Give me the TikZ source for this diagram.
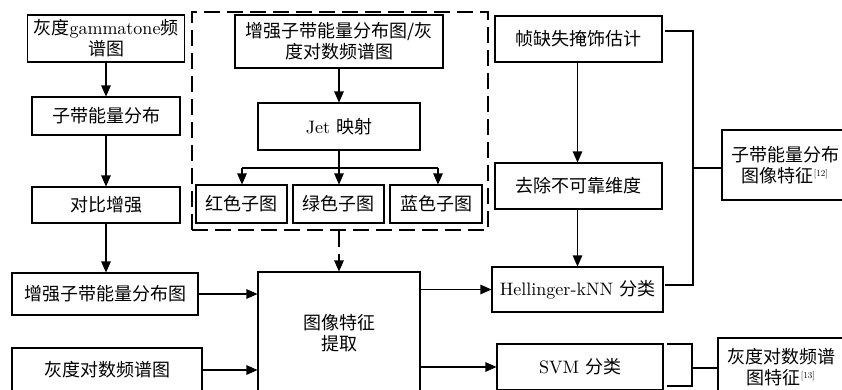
\documentclass[tikz,border=0pt]{standalone}
\usepackage{fontspec}
\setmainfont{lmroman10-regular}[Extension=.otf]
\newfontfamily\cjk{Noto Sans CJK SC}
\usetikzlibrary{arrows.meta,calc}
\newcommand\zh[1]{{\cjk #1}}
\newcommand\refmark[1]{\textsuperscript{\fontsize{9}{9}\selectfont[#1]}}
\begin{document}
\begin{tikzpicture}[x=1pt,y=-1pt,
  box/.style={draw,line width=1.05pt,inner sep=0pt,align=center,font=\fontsize{18}{21}\selectfont},
  arr/.style={line width=1.05pt,-{Triangle[length=11pt,width=9.5pt]}},
  ln/.style={line width=1.05pt},
  grpbox/.style={draw,line width=1.05pt,dash pattern=on 16pt off 7pt,inner sep=0pt}]
\useasboundingbox (0,0) rectangle (842,389);
% left column
\node[box,minimum width=157pt,minimum height=47pt] (n1) at (106,38.5) {\zh{灰度}gammatone\zh{频}\\\zh{谱图}};
\node[box,minimum width=148pt,minimum height=38pt] (n2) at (106,116) {\zh{子带能量分布}};
\node[box,minimum width=148pt,minimum height=36pt] (n3) at (106,205) {\zh{对比增强}};
\node[box,minimum width=186pt,minimum height=42pt] (n4) at (105,294) {\zh{增强子带能量分布图}};
\node[box,minimum width=190pt,minimum height=44pt] (n5) at (107,370) {\zh{灰度对数频谱图}};
% dashed group
\node[grpbox,minimum width=296pt,minimum height=218pt] (grp) at (340,121) {};
\node[box,minimum width=208pt,minimum height=53pt] (top) at (339,41.5) {\zh{增强子带能量分布图/灰}\\\zh{度对数频谱图}};
\node[box,minimum width=162pt,minimum height=47pt] (jet) at (339,126.5) {Jet \zh{映射}};
\node[box,minimum width=91pt,minimum height=38pt] (red) at (241.5,204) {\zh{红色子图}};
\node[box,minimum width=91pt,minimum height=38pt] (green) at (338.5,204) {\zh{绿色子图}};
\node[box,minimum width=92pt,minimum height=38pt] (blue) at (436,204) {\zh{蓝色子图}};
% feature extraction
\node[box,minimum width=162pt,minimum height=122pt] (feat) at (339,333) {\zh{图像特征}\\\zh{提取}};
% right column
\node[box,minimum width=167pt,minimum height=46pt] (fm) at (578.5,39) {\zh{帧缺失掩饰估计}};
\node[box,minimum width=167pt,minimum height=46pt] (rm) at (578.5,186) {\zh{去除不可靠维度}};
\node[box,minimum width=171pt,minimum height=45pt] (hk) at (577.5,289.5) {Hellinger-kNN \zh{分类}};
\node[box,minimum width=166pt,minimum height=46pt] (svm) at (580,367) {SVM \zh{分类}};
\node[box,minimum width=126pt,minimum height=70pt] (f12) at (785,165) {\zh{子带能量分布}\\\zh{图像特征}\refmark{12}};
\node[box,minimum width=126pt,minimum height=58pt] (f13) at (781,367) {\zh{灰度对数频谱}\\\zh{图特征}\refmark{13}};
% arrows left column
\draw[arr] (n1) -- (n2);
\draw[arr] (n2) -- (n3);
\draw[arr] (n3.south) -- (n3.south |- n4.north);
\draw[arr] (n4.east) -- (n4.east -| feat.west);
\draw[arr] (n5.east) -- (n5.east -| feat.west);
% group internals
\draw[arr] (top) -- (jet);
\coordinate (sp) at (339,168);
\coordinate (spl) at (242,168);
\coordinate (spr) at (438,168);
\draw[ln] (jet.south) -- (sp);
\draw[ln] (spl) -- (spr);
\draw[arr] (spl) -- (spl |- red.north);
\draw[arr] (sp) -- (sp |- green.north);
\draw[arr] (spr) -- (spr |- blue.north);
\draw[line width=1.05pt,dash pattern=on 16pt off 7pt,-{Triangle[length=11pt,width=9.5pt]}] (grp.south -| feat.north) -- (feat.north);
% feature outputs
\draw[arr] (feat.east |- hk.west) -- (hk.west);
\draw[arr] (feat.east |- svm.west) -- (svm.west);
% right column
\draw[arr] (fm.south -| hk.north) -- (hk.north |- rm.north);
\draw[arr] (rm.south -| hk.north) -- (hk.north);
% bracket 1
\coordinate (b1a) at (665,31);
\coordinate (b1b) at (693,31);
\coordinate (b1c) at (693,285);
\coordinate (b1d) at (665,285);
\coordinate (b1m) at (693,168);
\draw[ln] (b1a) -- (b1b) -- (b1c) -- (b1d);
\draw[ln] (b1m) -- (b1m -| f12.west);
% bracket 2
\coordinate (b2a) at (667,344);
\coordinate (b2b) at (692,344);
\coordinate (b2c) at (692,386);
\coordinate (b2d) at (667,386);
\coordinate (b2m) at (692,368);
\draw[ln] (b2a) -- (b2b) -- (b2c) -- (b2d);
\draw[ln] (b2m) -- (b2m -| f13.west);
\end{tikzpicture}
\end{document}
